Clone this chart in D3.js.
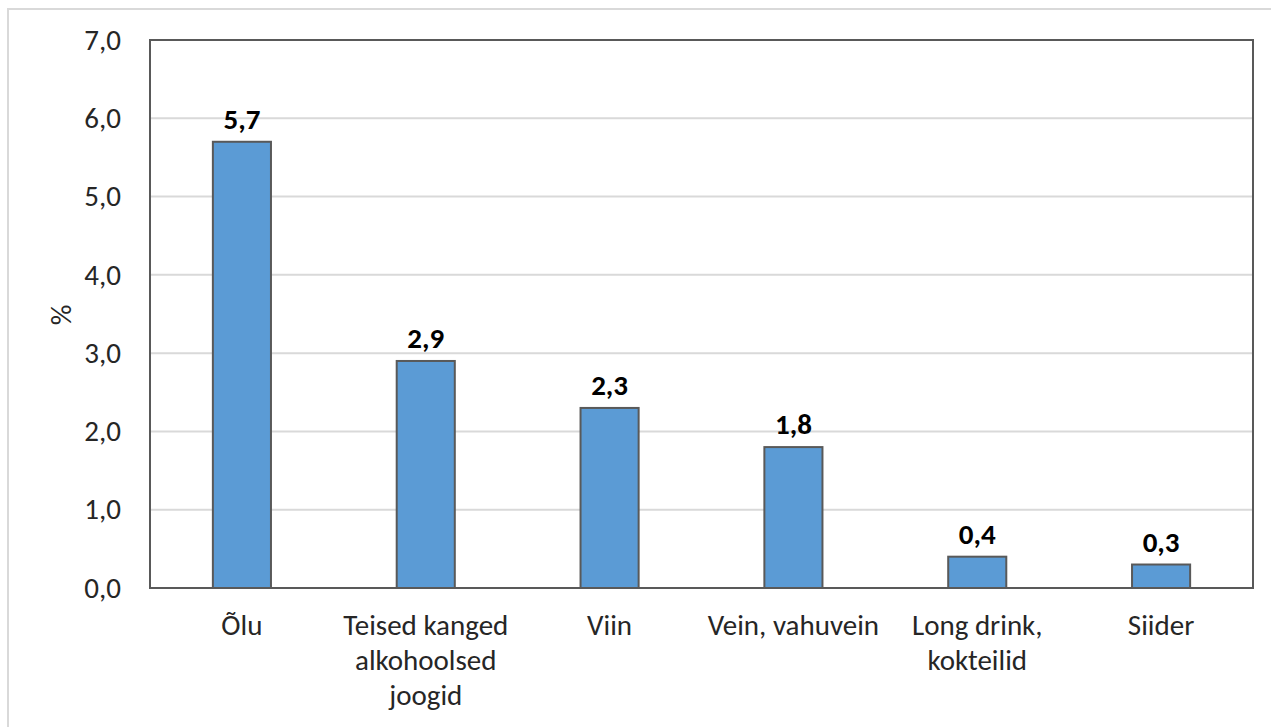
<!DOCTYPE html>
<html><head><meta charset="utf-8">
<script src="https://cdn.jsdelivr.net/npm/d3@7"></script>
<style>
html,body{margin:0;padding:0;background:#fff;}
svg{display:block;font-family:Carlito,"Open Sans",sans-serif;}
</style></head>
<body>
<script>
const categories = [["Õlu"], ["Teised kanged", "alkohoolsed", "joogid"], ["Viin"], ["Vein, vahuvein"], ["Long drink,", "kokteilid"], ["Siider"]];
const values = [5.7, 2.9, 2.3, 1.8, 0.4, 0.3];
const yTicks = [0, 1, 2, 3, 4, 5, 6, 7];
const yLabel = "%";

const W = 1271, H = 727;
const m = {left: 150, right: 18, top: 40, bottom: 139};
const FS = 29;
const svg = d3.select("body").append("svg").attr("width", W).attr("height", H);

// outer chart border (top & left visible)
svg.append("line").attr("x1", 8).attr("x2", W).attr("y1", 9).attr("y2", 9).attr("stroke", "#d9d9d9").attr("stroke-width", 2);
svg.append("line").attr("x1", 8).attr("x2", 8).attr("y1", 8).attr("y2", H).attr("stroke", "#d9d9d9").attr("stroke-width", 2);

const x = d3.scaleBand().domain(d3.range(categories.length)).range([m.left, W - m.right]).paddingInner(0.684).paddingOuter(0.342);
const y = d3.scaleLinear().domain([0, 7]).range([H - m.bottom, m.top]);

// gridlines
svg.append("g").selectAll("line").data(yTicks.slice(1)).join("line")
  .attr("x1", m.left).attr("x2", W - m.right)
  .attr("y1", d => y(d)).attr("y2", d => y(d))
  .attr("stroke", "#d9d9d9").attr("stroke-width", 2);

// y axis tick labels
const yAxis = d3.axisLeft(y).tickValues(yTicks).tickSize(0).tickPadding(29)
  .tickFormat(d => d3.format(".1f")(d).replace(".", ","));
const ga = svg.append("g").attr("transform", `translate(${m.left},0)`).call(yAxis)
  .attr("font-family", null).attr("font-size", null);
ga.select(".domain").remove();
ga.selectAll("text").attr("font-size", FS).attr("fill", "#262626");

// bars
svg.append("g").selectAll("rect").data(values).join("rect")
  .attr("x", (d, i) => x(i)).attr("width", x.bandwidth())
  .attr("y", d => y(d)).attr("height", d => y(0) - y(d))
  .attr("fill", "#5b9bd5").attr("stroke", "#595959").attr("stroke-width", 2);

// plot frame
svg.append("rect").attr("x", m.left).attr("y", m.top)
  .attr("width", W - m.right - m.left).attr("height", H - m.bottom - m.top)
  .attr("fill", "none").attr("stroke", "#595959").attr("stroke-width", 2);

// data labels
svg.append("g").selectAll("text").data(values).join("text")
  .attr("x", (d, i) => x(i) + x.bandwidth() / 2).attr("y", d => y(d) - 13)
  .attr("text-anchor", "middle").attr("font-size", FS).attr("font-weight", "bold").attr("fill", "#000")
  .text(d => d3.format(".1f")(d).replace(".", ","));

// x labels
const xl = svg.append("g").selectAll("text").data(categories).join("text")
  .attr("x", (d, i) => x(i) + x.bandwidth() / 2).attr("y", 635)
  .attr("text-anchor", "middle").attr("font-size", FS).attr("fill", "#262626");
xl.selectAll("tspan").data(d => d).join("tspan")
  .attr("x", function() { return d3.select(this.parentNode).attr("x"); })
  .attr("dy", (d, i) => i === 0 ? 0 : 35).text(d => d);

// y label
svg.append("text").attr("transform", `translate(71,315) rotate(-90)`)
  .attr("text-anchor", "middle").attr("font-size", FS).attr("fill", "#262626").text(yLabel);
</script>
</body></html>
